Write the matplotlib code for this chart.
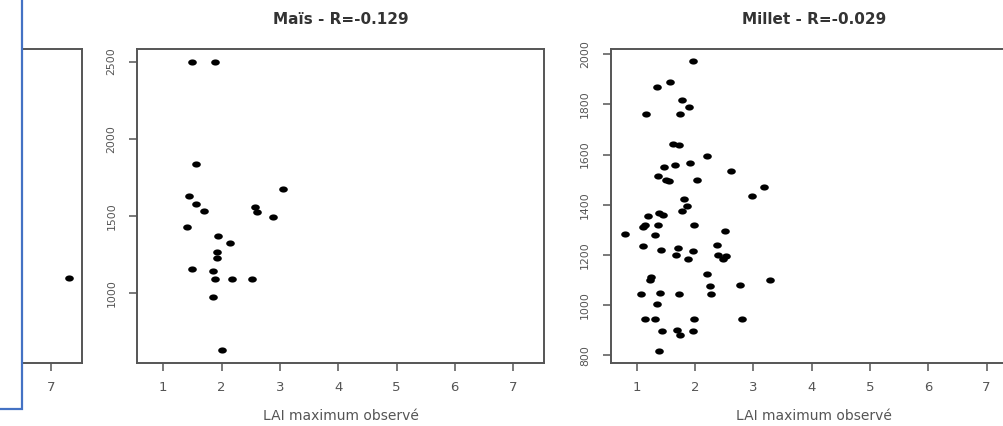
import numpy as np
import matplotlib
matplotlib.use("Agg")
import matplotlib.pyplot as plt
from matplotlib.path import Path
from matplotlib.patches import Rectangle

# values
mais_lai = [1.50, 1.89, 1.56, 1.44, 1.56, 1.69, 1.40, 3.05, 2.58, 2.61, 2.89,
            1.94, 2.15, 1.92, 1.92, 1.50, 1.86, 1.89, 2.18, 2.52, 1.86, 2.00]
mais_yield = [2500, 2500, 1835, 1629, 1581, 1534, 1428, 1676, 1559, 1525, 1493,
              1372, 1325, 1269, 1230, 1159, 1144, 1094, 1094, 1094, 974, 634]

millet_lai = [1.97, 1.57, 1.34, 1.78, 1.89, 1.16, 1.75, 1.63, 1.73, 2.21, 1.91,
              1.47, 1.65, 2.62, 1.37, 1.51, 1.56, 2.04, 3.18, 2.98, 1.81, 1.86,
              1.78, 1.19, 1.38, 1.45, 1.10, 1.15, 1.37, 1.99, 0.80, 1.31, 2.51,
              1.10, 1.42, 1.71, 1.97, 1.68, 1.88, 2.37, 2.40, 2.48, 2.54, 2.21,
              1.22, 1.25, 3.29, 2.25, 2.77, 1.08, 1.40, 1.72, 2.28, 1.34, 1.14,
              1.32, 1.99, 2.80, 1.44, 1.69, 1.75, 1.97, 1.39]
millet_yield = [1972, 1887, 1867, 1818, 1789, 1760, 1760, 1641, 1636, 1596, 1567,
                1552, 1558, 1533, 1514, 1498, 1493, 1499, 1469, 1434, 1424, 1395,
                1376, 1355, 1369, 1361, 1312, 1318, 1321, 1321, 1282, 1281, 1297,
                1237, 1221, 1228, 1217, 1199, 1183, 1239, 1199, 1183, 1197, 1124,
                1100, 1113, 1099, 1075, 1079, 1045, 1050, 1046, 1045, 1005, 944,
                944, 946, 946, 897, 900, 883, 897, 817]

# only the right edge of the left panel shows: one point and the "7" tick
other_lai = [7.30]
other_yield = [1100]
other_xticks = [7]

titles = ["Maïs - R=-0.129", "Millet - R=-0.029"]
xticks = [1, 2, 3, 4, 5, 6, 7]
mais_yticks = [1000, 1500, 2000, 2500]
millet_yticks = [800, 1000, 1200, 1400, 1600, 1800, 2000]

W, H = 1004, 426
fig = plt.figure(figsize=(W / 100, H / 100), dpi=100)
fig.patch.set_facecolor("white")

# the screenshot is stretched sideways, so the dots are a bit oval
t = np.linspace(0, 2 * np.pi, 40)
oval = Path(np.column_stack([1.4 * np.cos(t), np.sin(t)]), closed=True)

frame_col = "#555555"
text_col = "#555555"
ax_w = 406.7 / W
ax_b = (H - 362.5) / H
ax_h = 313.5 / H


def panel(left_px, x, y, ylim, xt, yticks, title=None, full=True):
    ax = fig.add_axes([left_px / W, ax_b, ax_w, ax_h])
    ax.scatter(x, y, marker=oval, s=6.2 ** 2, color="black", linewidths=0)
    ax.set_xlim(0.554, 7.53)
    ax.set_ylim(*ylim)
    ax.set_xticks(xt)
    ax.set_yticks(yticks)
    for s in ax.spines.values():
        s.set_color(frame_col)
        s.set_linewidth(1.4)
    ax.tick_params(direction="out", length=6, width=1.1, color=frame_col,
                   labelcolor=text_col)
    ax.tick_params(axis="x", labelsize=9.5, pad=7)
    ax.tick_params(axis="y", labelsize=7.8, pad=9)
    if not full:
        ax.tick_params(axis="y", left=False, labelleft=False)
        return ax
    for lab in ax.get_yticklabels():
        lab.set_rotation(90)
        lab.set_va("center")
    ax.set_xlabel("LAI maximum observé", fontsize=10, color=text_col)
    ax.xaxis.set_label_coords(0.5, -54 / 313.5)
    ax.xaxis.label.set_va("center")
    ax.text(0.5, 1 + 29 / 313.5, title, transform=ax.transAxes,
            ha="center", va="center", fontsize=11, fontweight="bold",
            color="#333333")
    return ax


panel(82 - 406.7, other_lai, other_yield, (553, 2581), other_xticks,
      mais_yticks, full=False)
panel(137.3, mais_lai, mais_yield, (553, 2581), xticks, mais_yticks, titles[0])
panel(610.7, millet_lai, millet_yield, (772, 2020), xticks, millet_yticks,
      titles[1])

# blue highlight box over the left edge of the screenshot
fig.add_artist(Rectangle((-0.05, (H - 409) / H), 0.05 + 22 / W, 1.0,
                         transform=fig.transFigure, facecolor="white",
                         edgecolor="#4472C4", linewidth=1.6, zorder=10))

fig.savefig("out.png", dpi=100)
